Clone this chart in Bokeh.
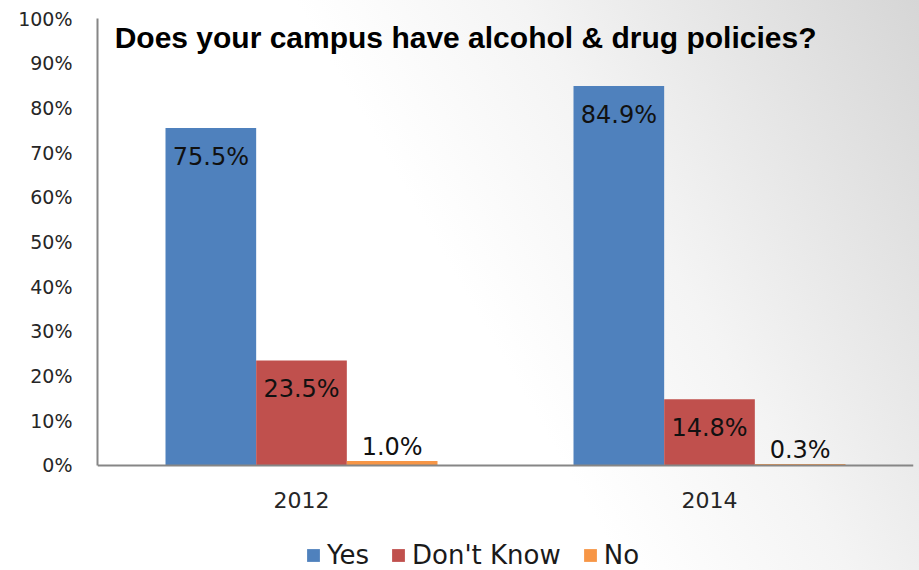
from bokeh.plotting import figure
from bokeh.models import (ColumnDataSource, FactorRange, FixedTicker, PrintfTickFormatter,
                          Legend, LegendItem, Label, Span, InlineStyleSheet)
from bokeh.transform import dodge
from bokeh.core.properties import value
from bokeh.embed import file_html
from bokeh.resources import INLINE

# ---- data ----
years = ["2012", "2014"]
series = ["Yes", "Don't Know", "No"]
yes = [75.5, 84.9]
dont_know = [23.5, 14.8]
no = [1.0, 0.3]
y_ticks = [0, 10, 20, 30, 40, 50, 60, 70, 80, 90, 100]
title_text = "Does your campus have alcohol & drug policies?"

colors = ["#4F81BD", "#C0504D", "#F79646"]

src = ColumnDataSource(dict(
    year=years,
    zero=[0, 0],
    yes=yes, dk=dont_know, no=no,
    yes_lbl=[f"{v:.1f}%" for v in yes],
    dk_lbl=[f"{v:.1f}%" for v in dont_know],
    no_lbl=[f"{v:.1f}%" for v in no],
))

# frame extends below the 0 line so the category labels and legend sit inside it
p = figure(width=919, height=570, x_range=FactorRange(*years, range_padding=0),
           y_range=(-23.5, 100), output_backend="svg", toolbar_location=None,
           min_border_left=97, min_border_right=6, min_border_top=18, min_border_bottom=0)

p.stylesheets = [InlineStyleSheet(css=":host { background: linear-gradient(60deg, #ffffff 0%, #ffffff 50%, #f4f4f4 68%, #d6d6d6 100%); }")]
p.background_fill_color = None
p.border_fill_color = None
p.outline_line_color = None
p.xgrid.visible = False
p.ygrid.visible = False

bw = 1 / 4.5
offsets = [-bw, 0.0, bw]
cols = ["yes", "dk", "no"]
renderers = []
for col, off, c in zip(cols, offsets, colors):
    r = p.vbar(x=dodge("year", off, range=p.x_range), top=col, width=bw, source=src,
               fill_color=c, line_color=None)
    renderers.append(r)

font = value("DejaVu Sans")
# labels inside top for Yes / Don't Know, above bar for No
for col, off in zip(cols[:2], offsets[:2]):
    p.text(x=dodge("year", off, range=p.x_range), y=col, text=col + "_lbl", source=src,
           text_font=font, text_font_size="24px", text_align="center",
           text_baseline="top", y_offset=15, text_color="#111111")
p.text(x=dodge("year", offsets[2], range=p.x_range), y="no", text="no_lbl", source=src,
       text_font=font, text_font_size="24px", text_align="center",
       text_baseline="alphabetic", y_offset=-14, text_color="#111111")

# category axis: baseline at 0 and year labels below it
p.xaxis.visible = False
p.add_layout(Span(location=0, dimension="width", line_color="#868686", line_width=2))
p.text(x="year", y="zero", text="year", source=src, text_font=font, text_font_size="22px",
       text_align="center", text_baseline="top", y_offset=27, text_color="#262626")

# value axis
ax = p.yaxis[0]
ax.bounds = (0, 100)
ax.axis_line_color = "#868686"
ax.axis_line_width = 2
ax.major_tick_line_color = None
ax.minor_tick_line_color = None
ax.major_label_text_font = "DejaVu Sans"
ax.major_label_text_color = "#262626"
ax.ticker = FixedTicker(ticks=y_ticks)
ax.formatter = PrintfTickFormatter(format="%d%%")
ax.major_label_text_font_size = "19px"
ax.major_label_standoff = 19

# title inside plot area
p.add_layout(Label(x=0.042, y=95.7, text=title_text, text_font="Liberation Sans",
                   text_font_style="bold", text_font_size="30px", text_color="#000000",
                   text_baseline="alphabetic"))

legend = Legend(items=[LegendItem(label=s, renderers=[r]) for s, r in zip(series, renderers)],
                orientation="horizontal", location=(208, 0),
                label_text_font="DejaVu Sans", label_text_font_size="26px",
                label_text_color="#1a1a1a", glyph_width=16, glyph_height=16,
                label_standoff=6, spacing=21, padding=0, margin=0,
                border_line_color=None, background_fill_alpha=0)
p.add_layout(legend)

open("out.html", "w").write(file_html(p, INLINE))
